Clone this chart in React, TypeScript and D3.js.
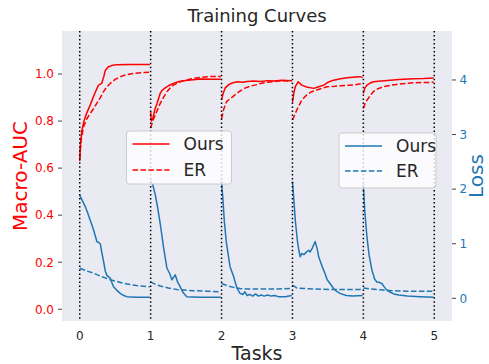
import React from "react";
import * as d3 from "d3";

type P = [number, number];

// Macro-AUC (left axis), x in task units
const aucOurs: P[] = [
  [0.0, 0.63], [0.01, 0.7], [0.03, 0.76], [0.06, 0.8], [0.1, 0.835], [0.15, 0.87], [0.195, 0.905], [0.23, 0.93],
  [0.265, 0.953], [0.31, 0.96], [0.34, 0.99], [0.36, 1.015], [0.4, 1.03], [0.45, 1.036], [0.52, 1.04], [0.7, 1.041], [0.99, 1.041],
  [1.0, 0.84], [1.01, 0.8], [1.03, 0.81], [1.06, 0.85], [1.09, 0.875], [1.135, 0.918], [1.16, 0.93], [1.2, 0.94],
  [1.25, 0.95], [1.32, 0.96], [1.4, 0.968], [1.46, 0.971], [1.6, 0.976], [1.7, 0.979], [1.85, 0.978], [1.99, 0.978],
  [2.0, 0.89], [2.02, 0.915], [2.05, 0.94], [2.1, 0.955], [2.15, 0.962], [2.22, 0.967], [2.3, 0.965], [2.36, 0.968],
  [2.45, 0.97], [2.55, 0.968], [2.65, 0.972], [2.75, 0.97], [2.85, 0.974], [2.99, 0.972],
  [3.0, 0.88], [3.02, 0.92], [3.04, 0.946], [3.08, 0.967], [3.13, 0.953], [3.2, 0.945], [3.3, 0.939], [3.36, 0.945],
  [3.44, 0.953], [3.5, 0.965], [3.58, 0.974], [3.68, 0.98], [3.77, 0.984], [3.93, 0.989], [3.99, 0.986],
  [4.0, 0.918], [4.02, 0.94], [4.05, 0.953], [4.1, 0.962], [4.14, 0.967], [4.25, 0.97], [4.38, 0.974], [4.5, 0.977],
  [4.71, 0.98], [4.85, 0.981], [4.99, 0.983],
];

const aucER: P[] = [
  [0.0, 0.64], [0.02, 0.72], [0.054, 0.776], [0.1, 0.81], [0.15, 0.833], [0.2, 0.855], [0.24, 0.875], [0.29, 0.9],
  [0.336, 0.925], [0.38, 0.945], [0.43, 0.96], [0.5, 0.977], [0.571, 0.989], [0.66, 0.997], [0.76, 1.003], [0.99, 1.008],
  [1.0, 0.77], [1.03, 0.8], [1.065, 0.826], [1.1, 0.85], [1.135, 0.875], [1.18, 0.9], [1.23, 0.925], [1.28, 0.942],
  [1.32, 0.953], [1.4, 0.965], [1.46, 0.971], [1.58, 0.98], [1.7, 0.986], [1.85, 0.99], [1.99, 0.99],
  [2.0, 0.81], [2.03, 0.85], [2.07, 0.882], [2.1, 0.89], [2.16, 0.904], [2.26, 0.928], [2.33, 0.94], [2.4, 0.948],
  [2.5, 0.955], [2.55, 0.96], [2.65, 0.965], [2.73, 0.967], [2.85, 0.972], [2.99, 0.97],
  [3.0, 0.805], [3.03, 0.825], [3.06, 0.847], [3.1, 0.87], [3.13, 0.889], [3.2, 0.911], [3.27, 0.925], [3.34, 0.932],
  [3.42, 0.94], [3.49, 0.946], [3.6, 0.948], [3.68, 0.95], [3.78, 0.952], [3.86, 0.953], [3.99, 0.96],
  [4.0, 0.854], [4.03, 0.88], [4.07, 0.897], [4.14, 0.925], [4.2, 0.937], [4.28, 0.946], [4.38, 0.952], [4.47, 0.956],
  [4.6, 0.96], [4.71, 0.963], [4.85, 0.964], [4.99, 0.965],
];

// Loss (right axis)
const lossOurs: P[] = [
  [0.0, 1.89], [0.04, 1.78], [0.078, 1.68], [0.11, 1.57], [0.148, 1.43], [0.17, 1.35], [0.195, 1.25], [0.22, 1.14],
  [0.242, 1.04], [0.27, 1.02], [0.289, 1.0], [0.31, 0.85], [0.34, 0.65], [0.36, 0.5], [0.383, 0.42], [0.43, 0.37],
  [0.45, 0.3], [0.477, 0.21], [0.52, 0.15], [0.571, 0.09], [0.62, 0.05], [0.665, 0.03], [0.8, 0.02], [0.99, 0.02],
  [1.0, 2.15], [1.03, 2.08], [1.065, 1.9], [1.1, 1.65], [1.135, 1.37], [1.18, 0.95], [1.23, 0.55], [1.27, 0.45],
  [1.3, 0.34], [1.347, 0.43], [1.38, 0.3], [1.417, 0.21], [1.46, 0.1], [1.51, 0.03], [1.7, 0.02], [1.99, 0.02],
  [2.0, 2.15], [2.02, 1.8], [2.04, 1.4], [2.07, 1.0], [2.1, 0.75], [2.12, 0.58], [2.17, 0.4], [2.2, 0.26],
  [2.22, 0.18], [2.26, 0.09], [2.3, 0.07], [2.33, 0.12], [2.36, 0.05], [2.4, 0.07], [2.44, 0.04], [2.48, 0.08],
  [2.52, 0.04], [2.56, 0.06], [2.6, 0.04], [2.65, 0.06], [2.7, 0.04], [2.75, 0.05], [2.8, 0.03], [2.9, 0.03], [2.99, 0.05],
  [3.0, 2.14], [3.02, 1.8], [3.04, 1.43], [3.07, 1.05], [3.09, 0.88], [3.11, 0.76], [3.13, 0.82], [3.16, 0.8],
  [3.2, 0.85], [3.23, 0.88], [3.25, 0.85], [3.28, 0.92], [3.32, 1.04], [3.35, 0.9], [3.37, 0.76], [3.4, 0.65],
  [3.42, 0.58], [3.46, 0.45], [3.49, 0.34], [3.53, 0.27], [3.58, 0.18], [3.62, 0.13], [3.67, 0.09], [3.76, 0.05],
  [3.85, 0.04], [3.99, 0.05],
  [4.0, 2.1], [4.02, 1.6], [4.05, 1.13], [4.08, 0.8], [4.12, 0.52], [4.16, 0.35], [4.19, 0.3], [4.23, 0.29],
  [4.26, 0.27], [4.3, 0.2], [4.33, 0.15], [4.38, 0.11], [4.43, 0.08], [4.5, 0.06], [4.62, 0.04], [4.8, 0.03], [4.99, 0.02],
];

const lossER: P[] = [
  [0.0, 0.55], [0.1, 0.5], [0.195, 0.46], [0.3, 0.4], [0.43, 0.34], [0.55, 0.3], [0.665, 0.26], [0.8, 0.235], [0.99, 0.21],
  [1.0, 0.3], [1.06, 0.26], [1.135, 0.225], [1.25, 0.19], [1.37, 0.16], [1.6, 0.14], [1.8, 0.13], [1.99, 0.12],
  [2.0, 0.27], [2.08, 0.23], [2.17, 0.2], [2.26, 0.18], [2.36, 0.17], [2.6, 0.17], [2.8, 0.17], [2.99, 0.18],
  [3.0, 0.24], [3.06, 0.19], [3.2, 0.175], [3.4, 0.165], [3.7, 0.16], [3.99, 0.16],
  [4.0, 0.19], [4.1, 0.17], [4.24, 0.155], [4.4, 0.14], [4.6, 0.13], [4.99, 0.13],
];

const taskTicks = [0, 1, 2, 3, 4, 5];
const aucTicks = [0.0, 0.2, 0.4, 0.6, 0.8, 1.0];
const lossTicks = [0, 1, 2, 3, 4];
const seriesNames = ["Ours", "ER"];

const W = 489;
const H = 364;
const L = 62, R = 452, T = 31, B = 321;
const RED = "#ff0000";
const BLUE = "#1f77b4";
const TXT = "#262626";
const FONT = "DejaVu Sans, sans-serif";

// split a series into one segment per task
const byTask = (pts: P[]) => d3.groups(pts, (d) => Math.floor(d[0])).map((g) => g[1]);

export default function App() {
  const x = d3.scaleLinear().domain([-0.25, 5.25]).range([L, R]);
  const yL = d3.scaleLinear().domain([-0.05, 1.183]).range([B, T]);
  const yR = d3.scaleLinear().domain([-0.416, 4.897]).range([B, T]);
  const lineL = d3.line<P>().x((d) => x(d[0])).y((d) => yL(d[1]));
  const lineR = d3.line<P>().x((d) => x(d[0])).y((d) => yR(d[1]));

  const series = [
    { data: aucOurs, line: lineL, color: RED, dash: undefined as string | undefined },
    { data: aucER, line: lineL, color: RED, dash: "5.55,2.4" },
    { data: lossOurs, line: lineR, color: BLUE, dash: undefined as string | undefined },
    { data: lossER, line: lineR, color: BLUE, dash: "5.55,2.4" },
  ];

  const legend = (bx: number, by: number, bw: number, bh: number, color: string, ly1: number, ly2: number) => (
    <g>
      <rect x={bx} y={by} width={bw} height={bh} rx={3} fill="#ffffff" fillOpacity={0.8} stroke="#cccccc" strokeWidth={1} />
      {seriesNames.map((n, i) => {
        const ly = i === 0 ? ly1 : ly2;
        return (
          <g key={n}>
            <line x1={bx + 6} x2={bx + 43} y1={ly} y2={ly} stroke={color} strokeWidth={1.5}
              strokeDasharray={i === 1 ? "5.55,2.4" : undefined} />
            <text x={bx + 57} y={ly + 6} fontSize={17} fill={TXT} fontFamily={FONT}>{n}</text>
          </g>
        );
      })}
    </g>
  );

  return (
    <svg width={W} height={H} style={{ position: "absolute", left: 0, top: 0 }} fontFamily={FONT}>
      <rect x={0} y={0} width={W} height={H} fill="#ffffff" />
      <rect x={L} y={T} width={R - L} height={B - T} fill="#eaeaf2" />

      {series.map((s, si) =>
        byTask(s.data).map((seg, ti) => (
          <path key={si + "-" + ti} d={s.line(seg) || ""} fill="none" stroke={s.color} strokeWidth={1.5}
            strokeDasharray={s.dash} strokeLinejoin="round" />
        ))
      )}

      {taskTicks.map((t) => (
        <line key={"v" + t} x1={x(t)} x2={x(t)} y1={T} y2={B} stroke="#000000" strokeWidth={1.5} strokeDasharray="1.5,2.475" />
      ))}

      {legend(126.5, 131, 105, 53, RED, 144, 170)}
      {legend(339, 133, 97, 55, BLUE, 146, 171)}

      {taskTicks.map((t) => (
        <text key={"xt" + t} x={x(t)} y={340} fontSize={12} fill={TXT} textAnchor="middle">{t}</text>
      ))}
      {aucTicks.map((v) => (
        <g key={"yl" + v}>
          <line x1={L - 4} x2={L} y1={yL(v)} y2={yL(v)} stroke="#444" strokeWidth={1} />
          <text x={L - 8} y={yL(v) + 4.3} fontSize={12} fill={RED} textAnchor="end">{v.toFixed(1)}</text>
        </g>
      ))}
      {lossTicks.map((v) => (
        <g key={"yr" + v}>
          <line x1={R} x2={R + 4} y1={yR(v)} y2={yR(v)} stroke="#444" strokeWidth={1} />
          <text x={R + 7.5} y={yR(v) + 4.3} fontSize={12} fill={BLUE} textAnchor="start">{v}</text>
        </g>
      ))}

      <text x={(L + R) / 2} y={22} fontSize={18} fill={TXT} textAnchor="middle">Training Curves</text>
      <text x={(L + R) / 2} y={360} fontSize={19} fill={TXT} textAnchor="middle">Tasks</text>
      <text transform={`translate(27,${(T + B) / 2}) rotate(-90)`} fontSize={20} fill={RED} textAnchor="middle">Macro-AUC</text>
      <text transform={`translate(483,${(T + B) / 2}) rotate(-90)`} fontSize={20} fill={BLUE} textAnchor="middle">Loss</text>
    </svg>
  );
}
